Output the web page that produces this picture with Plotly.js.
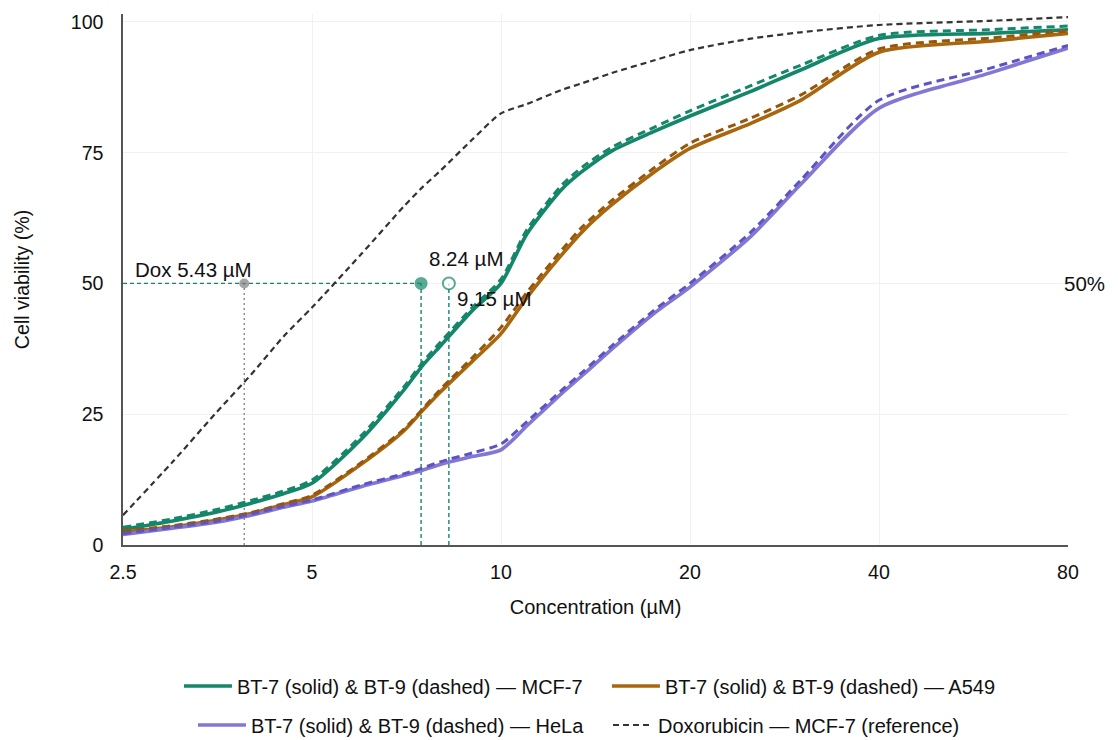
<!DOCTYPE html>
<html>
<head>
<meta charset="utf-8">
<script src="https://cdn.plot.ly/plotly-3.0.1.min.js"></script>
<style>html,body{margin:0;padding:0;background:#fff;}#chart{width:1118px;height:740px;}</style>
</head>
<body>
<div id="chart"></div>
<script>
// Concentrations (µM)
const conc = [2.5, 3, 3.5, 4, 4.5, 5, 6, 7, 7.5, 8, 9, 10, 11, 12.5, 13.5, 15, 17.5, 20, 25, 30, 40, 60, 80];

// Cell viability (%)
const mcf7_bt7 = [3.0, 4.6, 6.2, 8.0, 9.8, 11.8, 20.3, 29.6, 34.3, 38.0, 44.8, 50.0, 59.5, 68.0, 71.5, 75.3, 79.0, 82.0, 86.7, 90.8, 96.8, 97.8, 98.5];
const mcf7_bt9 = [3.4, 5.0, 6.7, 8.5, 10.3, 12.4, 21.0, 30.2, 34.9, 38.7, 45.4, 50.8, 60.3, 68.8, 72.3, 76.0, 79.8, 83.0, 87.8, 91.7, 97.4, 98.5, 99.2];
const a549_bt7 = [2.5, 3.5, 4.7, 6.0, 7.7, 9.2, 15.5, 21.8, 25.7, 29.2, 35.1, 40.4, 47.3, 55.5, 60.0, 65.0, 71.2, 75.8, 80.6, 85.0, 94.2, 96.3, 97.8];
const a549_bt9 = [2.7, 3.7, 4.9, 6.2, 7.9, 9.5, 15.8, 22.1, 26.0, 29.7, 35.8, 41.6, 48.3, 56.4, 60.9, 65.8, 72.0, 76.8, 81.6, 86.0, 94.8, 96.9, 98.3];
const hela_bt7 = [2.0, 3.2, 4.3, 5.7, 7.2, 8.4, 11.2, 13.3, 14.3, 15.4, 16.9, 18.2, 22.8, 29.0, 32.5, 37.4, 44.2, 49.3, 59.0, 68.9, 83.5, 90.2, 95.0];
const hela_bt9 = [2.2, 3.4, 4.5, 5.9, 7.4, 8.6, 11.5, 13.6, 14.7, 15.9, 17.6, 19.3, 23.6, 29.6, 33.1, 38.0, 44.8, 50.0, 59.8, 69.7, 85.0, 91.1, 95.5];
const dox_mcf7 = [5.7, 15.9, 25.0, 32.6, 39.8, 45.4, 55.7, 64.7, 68.4, 71.5, 77.5, 82.5, 84.3, 87.0, 88.3, 90.2, 92.6, 94.6, 96.8, 98.0, 99.4, 100.2, 100.9];

// Axis ticks
const xTicks = [2.5, 5, 10, 20, 40, 80];
const xTickText = ['2.5', '5', '10', '20', '40', '80'];
const yTicks = [0, 25, 50, 75, 100];

// Legend names
const seriesNames = [
  'BT-7 (solid) & BT-9 (dashed) — MCF-7',
  'BT-7 (solid) & BT-9 (dashed) — A549',
  'BT-7 (solid) & BT-9 (dashed) — HeLa',
  'Doxorubicin — MCF-7 (reference)'
];

// IC50 guide markers
const halfLevel = 50;
const ic50MarkerX = [3.9, 7.46, 8.26];
const ic50Labels = ['Dox 5.43 µM', '8.24 µM', '9.15 µM'];

const GREEN = '#14866a', BROWN = '#a8670f', BROWN_D = '#96560a', PURPLE = '#8177d4', PURPLE_D = '#5f52c2', DOX = '#333333';
const FONT = 'Liberation Sans, Arial, sans-serif';
const SMOOTH = 0.7;

function solid(y, color, name, legend) {
  return {x: conc, y: y, mode: 'lines', type: 'scatter', name: name, legend: legend,
    line: {color: color, width: 3.6, shape: 'spline', smoothing: SMOOTH}, hoverinfo: 'skip'};
}
function dashed(y, color) {
  return {x: conc, y: y, mode: 'lines', type: 'scatter', showlegend: false,
    line: {color: color, width: 3, dash: '8px,5px', shape: 'spline', smoothing: SMOOTH}, hoverinfo: 'skip'};
}

const traces = [
  solid(mcf7_bt7, GREEN, seriesNames[0], 'legend'),
  dashed(mcf7_bt9, GREEN),
  solid(a549_bt7, BROWN, seriesNames[1], 'legend2'),
  dashed(a549_bt9, BROWN_D),
  solid(hela_bt7, PURPLE, seriesNames[2], 'legend3'),
  dashed(hela_bt9, PURPLE_D),
  {x: conc, y: dox_mcf7, mode: 'lines', type: 'scatter', name: seriesNames[3], legend: 'legend4',
    line: {color: DOX, width: 2.2, dash: '6px,4px', shape: 'spline', smoothing: SMOOTH}, hoverinfo: 'skip'},
  {x: ic50MarkerX, y: ic50MarkerX.map(() => halfLevel), mode: 'markers', type: 'scatter', showlegend: false,
    marker: {size: [10, 13, 12], color: ['#7f7f7f', GREEN, '#ffffff'],
      line: {color: ['#7f7f7f', GREEN, GREEN], width: [0, 0, 2]}}, hoverinfo: 'skip'}
];

const shapes = [
  {type: 'line', layer: 'between', xref: 'x', yref: 'y', x0: conc[0], x1: ic50MarkerX[1], y0: halfLevel, y1: halfLevel,
    line: {color: GREEN, width: 1.4, dash: '4px,3px'}},
  {type: 'line', layer: 'between', xref: 'x', yref: 'y', x0: ic50MarkerX[0], x1: ic50MarkerX[0], y0: 0, y1: halfLevel,
    line: {color: '#888888', width: 1.4, dash: '2px,3px'}},
  {type: 'line', layer: 'between', xref: 'x', yref: 'y', x0: ic50MarkerX[1], x1: ic50MarkerX[1], y0: 0, y1: halfLevel,
    line: {color: GREEN, width: 1.4, dash: '4px,3px'}},
  {type: 'line', layer: 'between', xref: 'x', yref: 'y', x0: ic50MarkerX[2], x1: ic50MarkerX[2], y0: 0, y1: halfLevel,
    line: {color: GREEN, width: 1.4, dash: '4px,3px'}}
];

const annFont = {family: FONT, size: 20.5, color: '#111111'};
const annotations = [
  {x: Math.log10(ic50MarkerX[0]), y: halfLevel, xref: 'x', yref: 'y', text: ic50Labels[0], showarrow: false,
    xanchor: 'right', yanchor: 'middle', xshift: 10, yshift: 14, font: annFont},
  {x: Math.log10(ic50MarkerX[1]), y: halfLevel, xref: 'x', yref: 'y', text: ic50Labels[1], showarrow: false,
    xanchor: 'left', yanchor: 'middle', xshift: 6, yshift: 25, font: annFont},
  {x: Math.log10(ic50MarkerX[2]), y: halfLevel, xref: 'x', yref: 'y', text: ic50Labels[2], showarrow: false,
    xanchor: 'left', yanchor: 'middle', xshift: 6, yshift: -15, font: annFont},
  {x: 1, y: halfLevel, xref: 'paper', yref: 'y', text: '50%', showarrow: false,
    xanchor: 'left', yanchor: 'middle', xshift: -6, yshift: 0, font: annFont}
];

function legendAt(x, y, w) {
  return {x: x, y: y, xref: 'paper', yref: 'paper', xanchor: 'left', yanchor: 'middle',
    orientation: 'v', bgcolor: 'rgba(0,0,0,0)', borderwidth: 0, itemwidth: w,
    font: {family: FONT, size: 20, color: '#111111'}};
}

const layout = {
  width: 1118, height: 740,
  margin: {l: 123, r: 50, t: 14, b: 195, autoexpand: false},
  paper_bgcolor: '#ffffff', plot_bgcolor: '#ffffff',
  font: {family: FONT, size: 19.6, color: '#111111'},
  showlegend: true,
  legend: legendAt(0.0592, -0.2655, 48),
  legend2: legendAt(0.5121, -0.2655, 48),
  legend3: legendAt(0.0740, -0.339, 48),
  legend4: legendAt(0.5132, -0.339, 40),
  xaxis: {
    type: 'log', range: [Math.log10(2.5), Math.log10(80)],
    tickvals: xTicks, ticktext: xTickText, ticks: '', ticklabelstandoff: 9,
    showgrid: true, gridcolor: '#f1f1f1', gridwidth: 1, zeroline: false,
    showline: true, linecolor: '#555555', linewidth: 1.6,
    tickfont: {family: FONT, size: 19.6, color: '#111111'},
    title: {text: 'Concentration (µM)', font: {family: FONT, size: 20, color: '#111111'}, standoff: 18}
  },
  yaxis: {
    range: [0, 101.5], tickvals: yTicks, ticks: '', ticklabelstandoff: 14,
    showgrid: true, gridcolor: '#f1f1f1', gridwidth: 1, zeroline: false,
    showline: true, linecolor: '#555555', linewidth: 1.6,
    tickfont: {family: FONT, size: 19.6, color: '#111111'},
    title: {text: 'Cell viability (%)', font: {family: FONT, size: 19.6, color: '#111111'}, standoff: 36}
  },
  shapes: shapes,
  annotations: annotations
};

Plotly.newPlot('chart', traces, layout, {displayModeBar: false, staticPlot: true});
</script>
</body>
</html>
